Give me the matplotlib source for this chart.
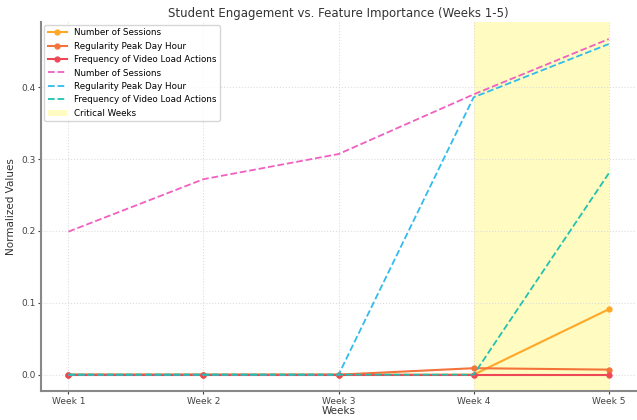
import matplotlib
matplotlib.use("Agg")
import matplotlib.pyplot as plt

weeks = ["Week 1", "Week 2", "Week 3", "Week 4", "Week 5"]

# feature importance (solid lines)
sessions_imp = [0.0, 0.0, 0.0, 0.0, 0.091]
regularity_imp = [0.0, 0.0, 0.0, 0.009, 0.007]
video_imp = [0.0, 0.0, 0.0, 0.0, 0.0]

# engagement (dashed lines)
sessions_eng = [0.199, 0.272, 0.307, 0.390, 0.467]
regularity_eng = [0.0, 0.0, 0.0, 0.386, 0.460]
video_eng = [0.0, 0.0, 0.0, 0.0, 0.280]

labels = ["Number of Sessions", "Regularity Peak Day Hour", "Frequency of Video Load Actions"]

fig, ax = plt.subplots(figsize=(6.37, 4.2), dpi=100)
x = range(len(weeks))

ax.plot(x, sessions_imp, color="#FFA726", marker="o", ms=3.5, lw=1.5, label=labels[0])
ax.plot(x, regularity_imp, color="#F4733A", marker="o", ms=3.5, lw=1.5, label=labels[1])
ax.plot(x, video_imp, color="#EE4856", marker="o", ms=3.5, lw=1.5, label=labels[2])
ax.plot(x, sessions_eng, color="#F060C0", ls="--", lw=1.3, label=labels[0])
ax.plot(x, regularity_eng, color="#30BCEC", ls="--", lw=1.3, label=labels[1])
ax.plot(x, video_eng, color="#22C2B0", ls="--", lw=1.3, label=labels[2])
ax.axvspan(3, 4, color="#FFF44F", alpha=0.35, lw=0, label="Critical Weeks")

ax.set_xticks(list(x))
ax.set_xticklabels(weeks)
ax.set_title("Student Engagement vs. Feature Importance (Weeks 1-5)", fontsize=8.5, color="#333333", pad=4)
ax.set_xlabel("Weeks", fontsize=7.5, color="#333333", labelpad=0)
ax.set_ylabel("Normalized Values", fontsize=7.5, color="#333333")
ax.grid(True, ls=":", color="#dddddd", lw=0.8)
for s in ["top", "right"]:
    ax.spines[s].set_visible(False)
for s in ["left", "bottom"]:
    ax.spines[s].set_color("#888888")
    ax.spines[s].set_linewidth(1.5)
ax.tick_params(labelsize=6.5, colors="#444444", pad=1.5, length=2.5)
ax.legend(loc="upper left", fontsize=6.3, frameon=True, borderaxespad=0.3, handlelength=2.2)

fig.subplots_adjust(left=0.065, right=0.998, top=0.947, bottom=0.068)
fig.savefig("out.png")
